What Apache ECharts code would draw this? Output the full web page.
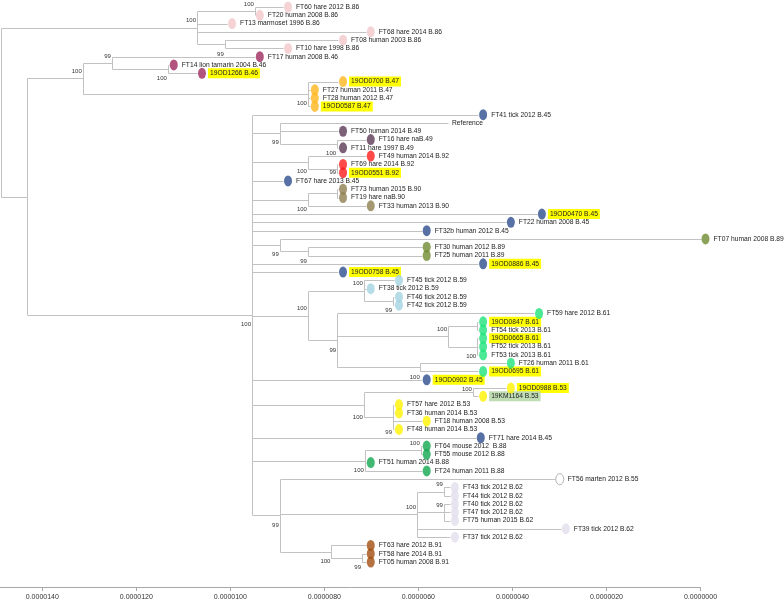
<!DOCTYPE html>
<html><head><meta charset="utf-8">
<script src="https://cdn.jsdelivr.net/npm/echarts@6/dist/echarts.min.js"></script>
<style>html,body{margin:0;padding:0;background:#fff}#c{width:784px;height:604px}</style>
</head><body><div id="c"></div>
<script>
// ---------- DATA ----------
// leaves, top to bottom
const leafLabels = [
 'FT60 hare 2012 B.86','FT20 human 2008 B.86','FT13 marmoset 1996 B.86','FT68 hare 2014 B.86','FT08 human 2003 B.86','FT10 hare 1998 B.86',
 'FT17 human 2008 B.46','FT14 lion tamarin 2004 B.46','19OD1266 B.46',
 '19OD0700 B.47','FT27 human 2011 B.47','FT28 human 2012 B.47','19OD0587 B.47',
 'FT41 tick 2012 B.45','Reference','FT50 human 2014 B.49','FT16 hare naB.49','FT11 hare 1997 B.49',
 'FT49 human 2014 B.92','FT69 hare 2014 B.92','19OD0551 B.92','FT67 hare 2013 B.45',
 'FT73 human 2015 B.90','FT19 hare naB.90','FT33 human 2013 B.90',
 '19OD0470 B.45','FT22 human 2008 B.45','FT32b human 2012 B.45',
 'FT07 human 2008 B.89','FT30 human 2012 B.89','FT25 human 2011 B.89',
 '19OD0886 B.45','19OD0758 B.45',
 'FT45 tick 2012 B.59','FT38 tick 2012 B.59','FT46 tick 2012 B.59','FT42 tick 2012 B.59',
 'FT59 hare 2012 B.61','19OD0847 B.61','FT54 tick 2013 B.61','19OD0665 B.61','FT52 tick 2013 B.61','FT53 tick 2013 B.61','FT26 human 2011 B.61','19OD0695 B.61',
 '19OD0902 B.45','19OD0988 B.53','19KM1164 B.53',
 'FT57 hare 2012 B.53','FT36 human 2014 B.53','FT18 human 2008 B.53','FT48 human 2014 B.53',
 'FT71 hare 2014 B.45','FT64 mouse 2012  B.88','FT55 mouse 2012 B.88','FT51 human 2014 B.88','FT24 human 2011 B.88',
 'FT56 marten 2012 B.55',
 'FT43 tick 2012 B.62','FT44 tick 2012 B.62','FT40 tick 2012 B.62','FT47 tick 2012 B.62','FT75 human 2015 B.62','FT39 tick 2012 B.62','FT37 tick 2012 B.62',
 'FT63 hare 2012 B.91','FT58 hare 2014 B.91','FT05 human 2008 B.91'
];
// tip positions on the axis, in units of 1e-6
const leafTips = [
 8.88,9.48,10.07,7.12,7.71,8.88,
 9.48,11.31,10.71,
 7.71,8.31,8.31,8.31,
 4.73,5.37,7.71,7.12,7.71,
 7.12,7.71,7.71,8.88,
 7.71,7.71,7.12,
 3.48,4.14,5.93,
 0.00,5.93,5.93,
 4.73,7.71,
 6.52,7.12,6.52,6.52,
 3.54,4.73,4.73,4.73,4.73,4.73,4.14,4.73,
 5.93,4.14,4.73,
 6.52,6.52,5.93,6.52,
 4.78,5.93,5.93,7.12,5.93,
 3.10,
 5.33,5.33,5.33,5.33,5.33,2.97,5.33,
 7.12,7.12,7.12
];
// internal nodes: [id, position (1e-6), children (leaf index or node id), bootstrap]
const clades = [
 ['root',14.88,['A','R1'],''],
 ['A',10.71,['a1',2,3,'a2'],'100'],
 ['a1',9.48,[0,1],'100'],
 ['a2',10.12,[4,5],''],
 ['R1',14.33,['B','C'],''],
 ['B',13.14,['b1','b3'],'100'],
 ['b1',12.52,['b0','b2'],'99'],
 ['b0',10.12,[6],'99'],
 ['b2',11.33,[7,8],'100'],
 ['b3',8.35,[9,10,11,12],'100'],
 ['C',9.54,[13,'c1','c2',21,'c3',25,26,27,'c4',31,32,'c5','c6','c7',52,'c8','c9'],'100'],
 ['c1',8.95,[14,15,'c1a'],'99'],
 ['c1a',7.73,[16,17],''],
 ['c2',8.35,['c2a','c2b'],'100'],
 ['c2a',7.73,[18],'100'],
 ['c2b',7.73,[19,20],'99'],
 ['c3',8.35,['c3a',24],'100'],
 ['c3a',7.73,[22,23],''],
 ['c4',8.95,[28,'c4a'],'99'],
 ['c4a',8.35,[29,30],'99'],
 ['c5',8.35,['c5a','c5b'],'100'],
 ['c5a',7.16,[33,34,'c5a1'],'100'],
 ['c5a1',6.54,[35,36],'99'],
 ['c5b',7.73,[37,'c5b1','c5b2'],'99'],
 ['c5b1',5.37,['c5b1a','c5b1b'],'100'],
 ['c5b1a',4.75,[38,39],''],
 ['c5b1b',4.75,[40,41,42],'100'],
 ['c5b2',5.97,[43,44],''],
 ['c6',5.95,[45],'100'],
 ['c7',7.16,['c7a','c7b'],'100'],
 ['c7a',4.84,[46,47],'100'],
 ['c7b',6.54,[48,49,50,51],'99'],
 ['c8',7.14,['c8a',55,56],'100'],
 ['c8a',5.95,[53,54],'100'],
 ['c9',8.95,[57,'c9a','c9b'],'99'],
 ['c9a',6.03,['c9a1','c9a2',63,64],'100'],
 ['c9a1',5.46,[58,59],'99'],
 ['c9a2',5.46,[60,61,62],'99'],
 ['c9b',7.85,[65,'c9b1'],'100'],
 ['c9b1',7.20,[66,67],'99']
];
const axisTicks = [14,12,10,8,6,4,2,0]; // units of 1e-6
const axisMax = 14.90;

// ---------- STYLE ----------
const genotypeColors = {
 'B.86':'#f2c8ca','B.46':'#9e2b5f','B.47':'#ffb61d','B.45':'#2e4d8e','B.49':'#5d3a58','B.92':'#ff1a1a',
 'B.90':'#8e8050','B.89':'#6f8b31','B.59':'#a4d3e2','B.61':'#1ee37b','B.53':'#fff200','B.88':'#13a84f',
 'B.55':'#ffffff','B.62':'#e2dfee','B.91':'#a24f10'
};
// where the bootstrap text sits relative to its node: a=above, b=below, c=just above, d=just below
const supportPlace = {a1:'a',A:'a',b0:'c',b1:'a',b2:'b',b3:'b',B:'a',C:'b',c1:'b',c2:'b',c2a:'c',c2b:'d',c3:'b',
 c4:'b',c4a:'b',c5:'a',c5a:'a',c5a1:'b',c5b:'b',c5b1:'a',c5b1b:'b',c6:'c',c7:'e',c7a:'c',c7b:'f',c8:'b',c8a:'a',
 c9:'b',c9a:'a',c9a1:'a',c9a2:'a',c9b:'b',c9b1:'b'};
const placeDy = {a:-7, b:9.5, c:-2.5, d:3.5, e:12.5, f:15};
const FONT = 'Liberation Sans, Arial, sans-serif';
const LINE = '#c2c2c2';
const U = 1e-6;

// ---------- TREE LAYOUT (data space) ----------
const cladeMap = {};
clades.forEach(c => cladeMap[c[0]] = {id:c[0], x:c[1], kids:c[2], bs:c[3]});
function nodeX(k){ return typeof k === 'number' ? leafTips[k] : cladeMap[k].x; }
const yCache = {};
function nodeY(k){
  if (typeof k === 'number') return k;
  if (yCache[k] !== undefined) return yCache[k];
  const kids = cladeMap[k].kids;
  const y = (nodeY(kids[0]) + nodeY(kids[kids.length-1])) / 2;
  yCache[k] = y; return y;
}
const segs = [];
const supports = [];
clades.forEach(c => {
  const id = c[0], x = c[1], kids = c[2];
  const y0 = nodeY(kids[0]), y1 = nodeY(kids[kids.length-1]);
  if (y1 > y0) segs.push([x*U, y0, x*U, y1]);
  kids.forEach(k => segs.push([x*U, nodeY(k), nodeX(k)*U, nodeY(k)]));
  if (c[3]) supports.push([x*U, nodeY(id), c[3], placeDy[supportPlace[id] || 'a']]);
});

function genotypeOf(label){ const m = label.match(/B\.\d+$/); return m ? m[0] : null; }
const markers = [];
const labels = [];
leafLabels.forEach((lab, i) => {
  const g = genotypeOf(lab);
  labels.push([leafTips[i]*U, i, lab, g ? 1 : 0]);
  if (g) {
    const open = g === 'B.55';
    markers.push({value:[leafTips[i]*U, i], itemStyle:{color:genotypeColors[g], borderColor: open ? '#8a8a8a' : 'transparent', borderWidth: open ? 0.8 : 0}});
  }
});

const chart = echarts.init(document.getElementById('c'), null, {renderer:'canvas'});
chart.setOption({
  backgroundColor:'#ffffff',
  animation:false,
  grid:{left:0, right:83.5, top:7, bottom:42},
  xAxis:{
    type:'value', inverse:true, min:0, max:axisMax*U, offset:25, position:'bottom',
    splitLine:{show:false},
    axisLine:{show:true, onZero:false, lineStyle:{color:'#a8a8a8', width:1}},
    axisTick:{show:true, length:4, lineStyle:{color:'#a8a8a8'}, customValues: axisTicks.map(v=>v*U)},
    axisLabel:{show:true, margin:7, fontSize:7, fontFamily:FONT, color:'#333', customValues: axisTicks.map(v=>v*U),
      formatter: v => (v).toFixed(7)}
  },
  yAxis:{type:'value', inverse:true, min:0, max:67, show:false},
  series:[
    {
      type:'custom', silent:true, clip:false, encode:{x:[0,2], y:[1,3]}, data:segs,
      renderItem:(p, api) => {
        const a = api.coord([api.value(0), api.value(1)]);
        const b = api.coord([api.value(2), api.value(3)]);
        const r = v => Math.round(v) + 0.5;
        return {type:'line', shape:{x1:r(a[0]), y1:r(a[1]), x2:r(b[0]), y2:r(b[1])}, style:{stroke:LINE, lineWidth:1}};
      }
    },
    {
      type:'scatter', silent:true, clip:false, symbol:'circle', symbolSize:[8,11], symbolOffset:[5,0],
      data: markers
    },
    {
      type:'custom', silent:true, clip:false, encode:{x:0, y:1}, data:labels,
      renderItem:(p, api) => {
        const pt = api.coord([api.value(0), api.value(1)]);
        const i = p.dataIndex;
        const lab = labels[i][2];
        const hasMarker = labels[i][3] === 1;
        const isOD = lab.startsWith('19OD'), isKM = lab.startsWith('19KM');
        const style = {text:lab, fill:'#222', fontSize:6.7, fontFamily:FONT, verticalAlign:'middle', align:'left'};
        if (isOD || isKM) { style.backgroundColor = isOD ? '#ffff00' : '#bfdcb3'; style.padding = [2,2,1,2]; }
        const x = pt[0] + (hasMarker ? ((isOD||isKM) ? 11 : 13) : 4);
        return {type:'text', x:x, y:pt[1], style:style};
      }
    },
    {
      type:'custom', silent:true, clip:false, encode:{x:0, y:1}, data:supports,
      renderItem:(p, api) => {
        const pt = api.coord([api.value(0), api.value(1)]);
        const s = supports[p.dataIndex];
        return {type:'text', x:pt[0]-1, y:pt[1]+s[3], style:{text:s[2], fill:'#333', fontSize:6, fontFamily:FONT, align:'right', verticalAlign:'middle'}};
      }
    }
  ]
});
</script></body></html>
